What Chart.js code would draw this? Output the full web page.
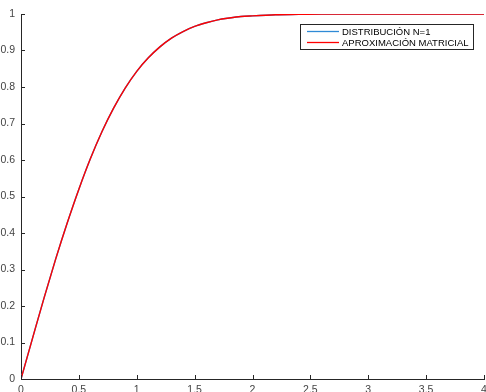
<!DOCTYPE html>
<html>
<head>
<meta charset="utf-8">
<script src="https://cdn.jsdelivr.net/npm/chart.js@4/dist/chart.umd.min.js"></script>
<style>
html, body { margin: 0; padding: 0; background: #fff; }
#wrap { width: 486px; height: 392px; }
</style>
</head>
<body>
<div id="wrap"><canvas id="cdf" width="486" height="392"></canvas></div>
<script>
// values
const xs = [0, 0.1, 0.2, 0.3, 0.4, 0.5, 0.6, 0.7, 0.8, 0.9, 1.0, 1.1, 1.2, 1.3, 1.4, 1.5, 1.6, 1.7, 1.8, 1.9, 2.0, 2.2, 2.4, 2.6, 2.8, 3.0, 3.5, 4.0]
const distribucion = [0, 0.112, 0.223, 0.329, 0.428, 0.520, 0.604, 0.678, 0.742, 0.797, 0.843, 0.880, 0.910, 0.934, 0.952, 0.966, 0.976, 0.984, 0.989, 0.993, 0.995, 0.998, 0.999, 1, 1, 1, 1, 1]
const aproximacion = [0, 0.112, 0.223, 0.329, 0.428, 0.520, 0.604, 0.678, 0.742, 0.797, 0.843, 0.880, 0.910, 0.934, 0.952, 0.966, 0.976, 0.984, 0.989, 0.993, 0.995, 0.998, 0.999, 1, 1, 1, 1, 1]
const labels = ['DISTRIBUCIÓN N=1', 'APROXIMACIÓN MATRICIAL']
const colors = ['#2f8ad6', '#ff0000']

const toPoints = ys => xs.map((x, i) => ({ x: x, y: ys[i] }))

// inward tick marks, like the original plot
const innerTicks = {
  id: 'innerTicks',
  afterDraw(chart) {
    const ctx = chart.ctx
    const a = chart.chartArea
    const sx = chart.scales.x, sy = chart.scales.y
    ctx.save()
    ctx.strokeStyle = '#262626'
    ctx.lineWidth = 1
    ctx.beginPath()
    sx.ticks.forEach(t => {
      const px = Math.round(sx.getPixelForValue(t.value)) + 0.5
      ctx.moveTo(px, a.bottom); ctx.lineTo(px, a.bottom - 4)
    })
    sy.ticks.forEach(t => {
      const py = Math.round(sy.getPixelForValue(t.value)) + 0.5
      ctx.moveTo(a.left, py); ctx.lineTo(a.left + 4, py)
    })
    ctx.stroke()
    ctx.restore()
  }
}

// legend box inside the plot, top right
const boxLegend = {
  id: 'boxLegend',
  afterDraw(chart) {
    const ctx = chart.ctx
    const a = chart.chartArea
    const x0 = a.right - 11 - 173, y0 = 24
    ctx.save()
    ctx.fillStyle = '#fff'
    ctx.fillRect(x0, y0, 173, 25)
    ctx.strokeStyle = '#262626'
    ctx.lineWidth = 1
    ctx.strokeRect(x0 + 0.5, y0 + 0.5, 173, 25)
    ctx.font = '9.5px "Liberation Sans", Arial, sans-serif'
    ctx.textBaseline = 'middle'
    chart.data.datasets.forEach((ds, i) => {
      const ty = y0 + 7 + i * 11
      ctx.strokeStyle = ds.borderColor
      ctx.lineWidth = 1.3
      ctx.beginPath()
      ctx.moveTo(x0 + 7, ty + 0.5); ctx.lineTo(x0 + 39, ty + 0.5)
      ctx.stroke()
      ctx.fillStyle = '#000'
      ctx.fillText(ds.label, x0 + 42, ty + 1)
    })
    ctx.restore()
  }
}

const tickFont = { family: '"Liberation Sans", Arial, sans-serif', size: 10.5 }

new Chart(document.getElementById('cdf'), {
  type: 'line',
  data: {
    datasets: [
      { label: labels[0], data: toPoints(distribucion), borderColor: colors[0], borderWidth: 1.4, pointRadius: 0, cubicInterpolationMode: 'monotone', order: 1 },
      { label: labels[1], data: toPoints(aproximacion), borderColor: colors[1], borderWidth: 1.4, pointRadius: 0, cubicInterpolationMode: 'monotone', order: 0 }
    ]
  },
  options: {
    responsive: false,
    animation: false,
    layout: { padding: { top: 14, right: 2, left: 0, bottom: 0 } },
    plugins: { legend: { display: false }, tooltip: { enabled: false } },
    scales: {
      x: {
        type: 'linear', min: 0, max: 4,
        grid: { display: false, drawTicks: false },
        border: { color: '#262626', width: 1 },
        ticks: {
          stepSize: 0.5, padding: 5, color: '#444', font: tickFont,
          maxRotation: 0,
          callback: v => String(+v.toFixed(1))
        },
        afterFit(s) { s.height = 13; s.paddingLeft = 0; s.paddingRight = 0 }
      },
      y: {
        min: 0, max: 1,
        grid: { display: false, drawTicks: false },
        border: { color: '#262626', width: 1 },
        ticks: {
          stepSize: 0.1, padding: 6, color: '#444', font: tickFont,
          callback: v => String(+v.toFixed(1))
        },
        afterFit(s) { s.width = 21; s.paddingTop = 0; s.paddingBottom = 0 }
      }
    }
  },
  plugins: [innerTicks, boxLegend]
})
</script>
</body>
</html>
